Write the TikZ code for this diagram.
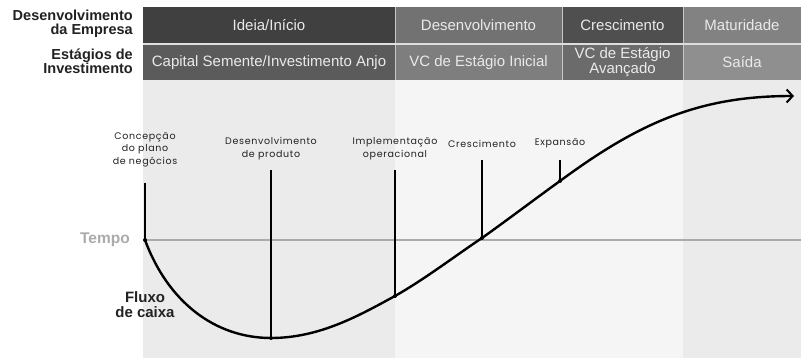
\documentclass[tikz,border=0pt]{standalone}
\usepackage{fontspec}
\setmainfont{Liberation Sans}
\newfontfamily\smallfont[LetterSpace=7]{Poppins}
\usetikzlibrary{arrows.meta}
\definecolor{hA}{HTML}{404040}
\definecolor{hB}{HTML}{727272}
\definecolor{hC}{HTML}{4F4F4F}
\definecolor{hD}{HTML}{828282}
\definecolor{rA}{HTML}{5B5B5B}
\definecolor{rB}{HTML}{7E7E7E}
\definecolor{rC}{HTML}{6B6B6B}
\definecolor{rD}{HTML}{8F8F8F}
\definecolor{bgA}{HTML}{EBEBEB}
\definecolor{bgB}{HTML}{F5F5F5}
\definecolor{celltext}{HTML}{EAEAEA}
\definecolor{sep}{HTML}{C8C8C8}
\definecolor{axisgray}{HTML}{ABABAB}
\definecolor{darktext}{HTML}{222222}
\tikzset{
  cell/.style={text=celltext, font=\fontsize{15}{13.5}\selectfont, align=center, inner sep=0pt, anchor=center},
  sidelabel/.style={font=\fontsize{14.5}{14}\selectfont\bfseries, text=darktext, align=right, anchor=east, inner sep=0pt},
  milestone/.style={font=\smallfont\fontsize{9.5}{12.5}\selectfont, text=darktext, align=center, anchor=south, inner sep=0pt},
  stem/.style={line width=1.8pt, black},
  curve/.style={line width=2.4pt, black},
  dot/.style={circle, fill=black, inner sep=0pt, minimum size=4pt},
}
\begin{document}
\begin{tikzpicture}[x=1pt,y=-1pt]
\useasboundingbox (0,0) rectangle (801,358);
\fill[white] (0,0) rectangle (801,358);
% background bands
\fill[bgA] (143,80) rectangle (395,358);
\fill[bgB] (395,80) rectangle (683,358);
\fill[bgA] (683,80) rectangle (801,358);
% header row 1
\fill[hA] (143,7) rectangle (395,43);
\fill[hB] (395,7) rectangle (562,43);
\fill[hC] (562,7) rectangle (683,43);
\fill[hD] (683,7) rectangle (801,43);
% header row 2
\fill[rA] (143,45) rectangle (395,80);
\fill[rB] (395,45) rectangle (562,80);
\fill[rC] (562,45) rectangle (683,80);
\fill[rD] (683,45) rectangle (801,80);
\draw[sep, line width=0.8pt] (395,7) -- (395,80) (562,7) -- (562,80) (683,7) -- (683,80);
\draw[sep!60!white, line width=1.5pt] (143,44) -- (801,44);
\node[cell] (ideia) at (269,25) {Ideia/Início};
\node[cell] (desenv) at (478.5,25) {Desenvolvimento};
\node[cell] (cresc) at (622.5,25) {Crescimento};
\node[cell] (matur) at (742,25) {Maturidade};
\node[cell] (capital) at (269,62.5) {Capital Semente/Investimento Anjo};
\node[cell] (vcini) at (478.5,62.5) {VC de Estágio Inicial};
\node[cell] (vcav) at (622.5,62) {VC de Estágio\\Avançado};
\node[cell] (saida) at (742,62.5) {Saída};
% side labels
\node[sidelabel] (emp) at (133,24) {Desenvolvimento\\da Empresa};
\node[sidelabel] (inv) at (133,61.5) {Estágios de\\Investimento};
% axis
\coordinate (A) at (145,240);
\coordinate (axend) at (801,240);
\draw[axisgray, line width=2pt] (A) -- (axend);
\node[font=\fontsize{15.5}{15}\selectfont\bfseries, text=axisgray, anchor=east, inner sep=0pt] (tempo) at (130,240) {Tempo};
\node[font=\fontsize{15}{15}\selectfont\bfseries, text=darktext, align=center, inner sep=0pt] (fluxo) at (145,305) {Fluxo\\de caixa};
% curve points
\coordinate (B) at (271,338);
\coordinate (C) at (395,296);
\coordinate (D) at (482,238);
\coordinate (E) at (560,181);
\coordinate (F) at (794,96);
% milestone labels
\node[milestone] (l1) at (145,167) {Concepção\\do plano\\de negócios};
\node[milestone] (l2) at (271,160) {Desenvolvimento\\de produto};
\node[milestone] (l3) at (395,160) {Implementação\\operacional};
\node[milestone] (l4) at (482,148) {Crescimento};
\node[milestone] (l5) at (560,148) {Expansão};
% stems
\coordinate (t1) at (145,183);
\coordinate (t2) at (271,170);
\coordinate (t3) at (395,170);
\coordinate (t4) at (482,160);
\coordinate (t5) at (560,160);
\draw[stem] (t1) -- (A);
\draw[stem] (t2) -- (B);
\draw[stem] (t3) -- (C);
\draw[stem] (t4) -- (D);
\draw[stem] (t5) -- (E);
% curve
\draw[curve, -{Straight Barb[length=6pt,width=13pt,line width=2pt]}]
  (A) .. controls (168,302) and (215,338) .. (B)
      .. controls (320,338) and (360,315) .. (C)
      .. controls (425,279) and (455,256) .. (D)
      .. controls (510,218) and (535,199) .. (E)
      .. controls (640,122) and (700,96) .. (F);
\foreach \p in {A,B,C,D,E} \node[dot] at (\p) {};
\end{tikzpicture}
\end{document}
